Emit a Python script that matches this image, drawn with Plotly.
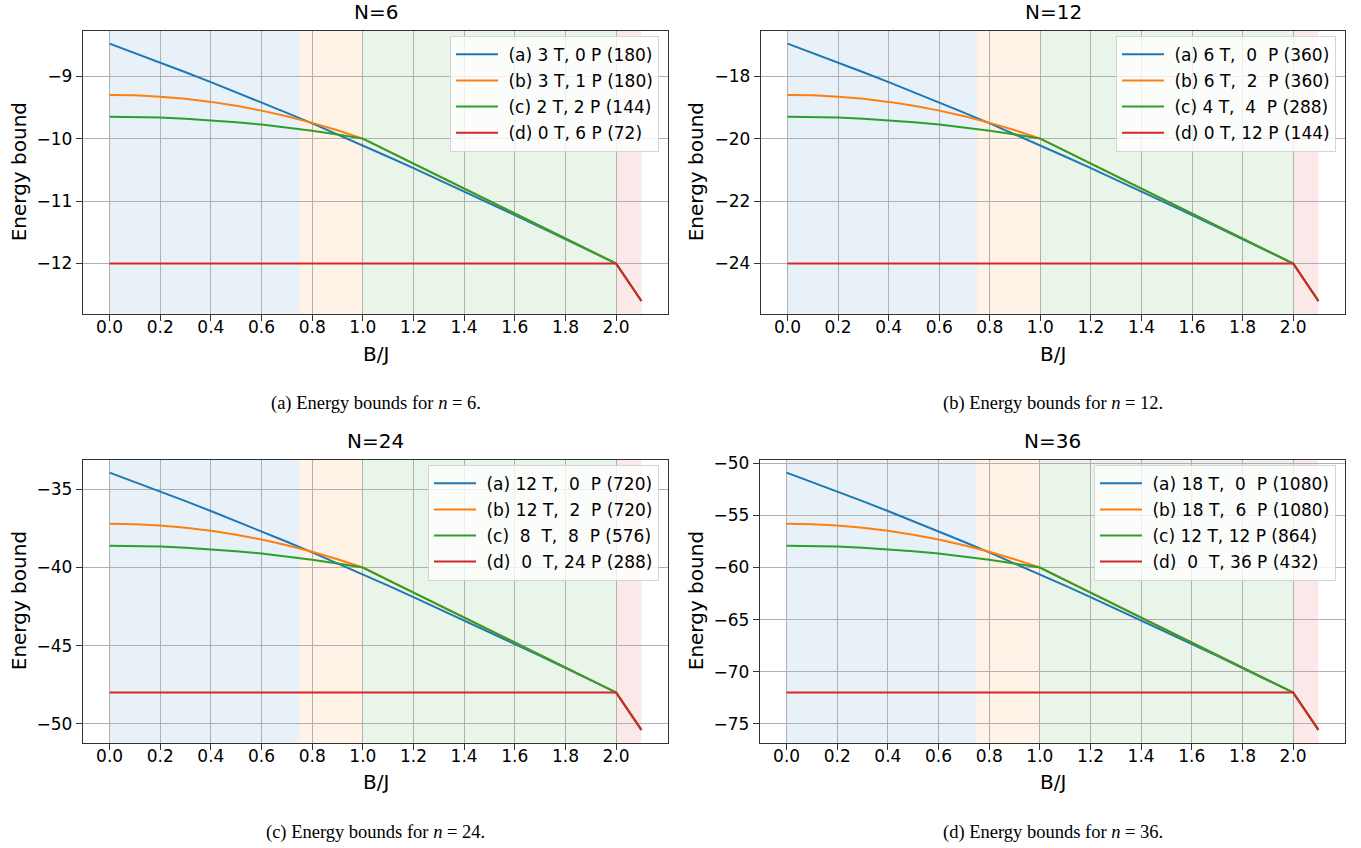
import plotly.graph_objects as go

# ---------------- data ----------------
B = [0.0, 0.1, 0.2, 0.3, 0.4, 0.5, 0.6, 0.7, 0.8, 0.9, 1.0,
     1.1, 1.2, 1.3, 1.4, 1.5, 1.6, 1.7, 1.8, 1.9, 2.0, 2.1]

# N = 6
n6_a = [-8.480, -8.630, -8.782, -8.937, -9.095, -9.256, -9.420, -9.587, -9.757, -9.931, -10.110,
        -10.291, -10.474, -10.659, -10.846, -11.035, -11.225, -11.416, -11.609, -11.804, -12.0, -12.6]
n6_b = [-9.300, -9.307, -9.328, -9.363, -9.412, -9.475, -9.552, -9.643, -9.748, -9.867, -10.0,
        -10.2, -10.4, -10.6, -10.8, -11.0, -11.2, -11.4, -11.6, -11.8, -12.0, -12.6]
n6_c = [-9.650, -9.654, -9.664, -9.682, -9.706, -9.738, -9.776, -9.822, -9.874, -9.934, -10.0,
        -10.2, -10.4, -10.6, -10.8, -11.0, -11.2, -11.4, -11.6, -11.8, -12.0, -12.6]
n6_d = [-12.0, -12.0, -12.0, -12.0, -12.0, -12.0, -12.0, -12.0, -12.0, -12.0, -12.0,
        -12.0, -12.0, -12.0, -12.0, -12.0, -12.0, -12.0, -12.0, -12.0, -12.0, -12.6]

# N = 12
n12_a = [-16.960, -17.260, -17.564, -17.874, -18.190, -18.512, -18.840, -19.174, -19.514, -19.862, -20.220,
         -20.582, -20.948, -21.318, -21.692, -22.070, -22.450, -22.832, -23.218, -23.608, -24.0, -25.2]
n12_b = [-18.600, -18.614, -18.656, -18.726, -18.824, -18.950, -19.104, -19.286, -19.496, -19.734, -20.0,
         -20.4, -20.8, -21.2, -21.6, -22.0, -22.4, -22.8, -23.2, -23.6, -24.0, -25.2]
n12_c = [-19.300, -19.308, -19.328, -19.364, -19.412, -19.476, -19.552, -19.644, -19.748, -19.868, -20.0,
         -20.4, -20.8, -21.2, -21.6, -22.0, -22.4, -22.8, -23.2, -23.6, -24.0, -25.2]
n12_d = [-24.0, -24.0, -24.0, -24.0, -24.0, -24.0, -24.0, -24.0, -24.0, -24.0, -24.0,
         -24.0, -24.0, -24.0, -24.0, -24.0, -24.0, -24.0, -24.0, -24.0, -24.0, -25.2]

# N = 24
n24_a = [-33.920, -34.520, -35.128, -35.748, -36.380, -37.024, -37.680, -38.348, -39.028, -39.724, -40.440,
         -41.164, -41.896, -42.636, -43.384, -44.140, -44.900, -45.664, -46.436, -47.216, -48.0, -50.4]
n24_b = [-37.200, -37.228, -37.312, -37.452, -37.648, -37.900, -38.208, -38.572, -38.992, -39.468, -40.0,
         -40.8, -41.6, -42.4, -43.2, -44.0, -44.8, -45.6, -46.4, -47.2, -48.0, -50.4]
n24_c = [-38.600, -38.616, -38.656, -38.728, -38.824, -38.952, -39.104, -39.288, -39.496, -39.736, -40.0,
         -40.8, -41.6, -42.4, -43.2, -44.0, -44.8, -45.6, -46.4, -47.2, -48.0, -50.4]
n24_d = [-48.0, -48.0, -48.0, -48.0, -48.0, -48.0, -48.0, -48.0, -48.0, -48.0, -48.0,
         -48.0, -48.0, -48.0, -48.0, -48.0, -48.0, -48.0, -48.0, -48.0, -48.0, -50.4]

# N = 36
n36_a = [-50.880, -51.780, -52.692, -53.622, -54.570, -55.536, -56.520, -57.522, -58.542, -59.586, -60.660,
         -61.746, -62.844, -63.954, -65.076, -66.210, -67.350, -68.496, -69.654, -70.824, -72.0, -75.6]
n36_b = [-55.800, -55.842, -55.968, -56.178, -56.472, -56.850, -57.312, -57.858, -58.488, -59.202, -60.0,
         -61.2, -62.4, -63.6, -64.8, -66.0, -67.2, -68.4, -69.6, -70.8, -72.0, -75.6]
n36_c = [-57.900, -57.924, -57.984, -58.092, -58.236, -58.428, -58.656, -58.932, -59.244, -59.604, -60.0,
         -61.2, -62.4, -63.6, -64.8, -66.0, -67.2, -68.4, -69.6, -70.8, -72.0, -75.6]
n36_d = [-72.0, -72.0, -72.0, -72.0, -72.0, -72.0, -72.0, -72.0, -72.0, -72.0, -72.0,
         -72.0, -72.0, -72.0, -72.0, -72.0, -72.0, -72.0, -72.0, -72.0, -72.0, -75.6]

titles = ["N=6", "N=12", "N=24", "N=36"]
labels_n6 = ["(a) 3 T, 0 P (180)", "(b) 3 T, 1 P (180)", "(c) 2 T, 2 P (144)", "(d) 0 T, 6 P (72)"]
labels_n12 = ["(a) 6 T,  0  P (360)", "(b) 6 T,  2  P (360)", "(c) 4 T,  4  P (288)", "(d) 0 T, 12 P (144)"]
labels_n24 = ["(a) 12 T,  0  P (720)", "(b) 12 T,  2  P (720)", "(c)  8  T,  8  P (576)", "(d)  0  T, 24 P (288)"]
labels_n36 = ["(a) 18 T,  0  P (1080)", "(b) 18 T,  6  P (1080)", "(c) 12 T, 12 P (864)", "(d)  0  T, 36 P (432)"]
captions = ["(a) Energy bounds for <i>n</i> = 6.", "(b) Energy bounds for <i>n</i> = 12.",
            "(c) Energy bounds for <i>n</i> = 24.", "(d) Energy bounds for <i>n</i> = 36."]
y_dticks = [1, 2, 5, 5]
x_tickvals = [0.0, 0.2, 0.4, 0.6, 0.8, 1.0, 1.2, 1.4, 1.6, 1.8, 2.0]

band_edges = [0.0, 0.75, 1.0, 2.0, 2.1]
band_colors = ["rgba(31,119,180,0.10)", "rgba(255,127,14,0.10)",
               "rgba(44,160,44,0.10)", "rgba(214,39,40,0.10)"]
line_colors = ["#1f77b4", "#ff7f0e", "#2ca02c", "#d62728"]

panels = [
    (titles[0], [n6_a, n6_b, n6_c, n6_d], labels_n6),
    (titles[1], [n12_a, n12_b, n12_c, n12_d], labels_n12),
    (titles[2], [n24_a, n24_b, n24_c, n24_d], labels_n24),
    (titles[3], [n36_a, n36_b, n36_c, n36_d], labels_n36),
]

# ---------------- layout geometry (pixels) ----------------
W, H = 1361, 848
px_x = [(83, 668), (761, 1345), (83, 668), (760, 1345)]
px_y = [(25, 310), (25, 310), (457, 742), (457, 742)]
ylabel_x = [19, 696, 19, 696]


def fx(p):
    return p / W


def fy(p):
    return 1 - p / H


def nb(s):
    return "\u00a0" + s.replace("  ", " \u00a0")


FONT = "DejaVu Sans"
fig = go.Figure()
layout = dict(
    width=W, height=H, margin=dict(l=0, r=0, t=0, b=0),
    paper_bgcolor="white", plot_bgcolor="white",
    font=dict(family=FONT, size=17, color="black"),
    showlegend=True,
)
annotations = []
shapes = []

for i, (title, series, labels) in enumerate(panels):
    k = "" if i == 0 else str(i + 1)
    xa, ya = "x" + k, "y" + k
    leg = "legend" + k
    for j in range(4):
        fig.add_trace(go.Scatter(
            x=B, y=series[j], mode="lines", name=nb(labels[j]),
            line=dict(color=line_colors[j], width=2),
            xaxis=xa, yaxis=ya, legend=leg, legendgroup=f"g{i}{j}",
        ))
    allv = [v for s in series for v in s]
    lo, hi = min(allv), max(allv)
    pad = 0.05 * (hi - lo)
    x0, x1 = px_x[i]
    y0, y1 = px_y[i]
    axcommon = dict(showline=True, mirror=True, linecolor="#333333", linewidth=1.3,
                    showgrid=True, gridcolor="#b0b0b0", gridwidth=1.2,
                    zeroline=False, ticks="outside", ticklen=6, tickwidth=1.3,
                    tickcolor="#333333", tickfont=dict(family=FONT, size=17))
    layout["xaxis" + k] = dict(
        domain=[fx(x0), fx(x1)], anchor=ya, range=[-0.105, 2.205],
        tickvals=x_tickvals, tickformat=".1f", ticklabelstandoff=-8, **axcommon)
    layout["yaxis" + k] = dict(
        domain=[fy(y1), fy(y0)], anchor=xa, range=[lo - pad, hi + pad],
        dtick=y_dticks[i], tick0=0, **axcommon)
    layout[leg] = dict(
        x=fx(x1 - 9), y=fy(y0 + 5), xanchor="right", yanchor="top",
        bgcolor="rgba(255,255,255,0.8)", bordercolor="#d5d5d5", borderwidth=1,
        font=dict(family=FONT, size=17), tracegroupgap=1, itemwidth=42,
    )
    for b in range(4):
        shapes.append(dict(type="rect", xref=xa, yref=ya + " domain",
                           x0=band_edges[b], x1=band_edges[b + 1], y0=0, y1=1,
                           fillcolor=band_colors[b], line=dict(width=0), layer="below"))
    cx = fx((x0 + x1) / 2)
    annotations.append(dict(text=title, xref="paper", yref="paper", x=cx, y=fy(y0),
                            xanchor="center", yanchor="bottom", yshift=5, showarrow=False,
                            font=dict(family=FONT, size=20)))
    annotations.append(dict(text="B/J", xref="paper", yref="paper", x=cx, y=fy(y1 + 40),
                            xanchor="center", yanchor="middle", showarrow=False,
                            font=dict(family=FONT, size=20)))
    annotations.append(dict(text="Energy bound", xref="paper", yref="paper",
                            x=fx(ylabel_x[i]), y=fy((y0 + y1) / 2), textangle=-90,
                            xanchor="center", yanchor="middle", showarrow=False,
                            font=dict(family=FONT, size=20)))
    annotations.append(dict(text=captions[i], xref="paper", yref="paper", x=cx,
                            y=fy(y1 + 90), xanchor="center", yanchor="middle",
                            showarrow=False,
                            font=dict(family="Liberation Serif", size=18.5)))

layout["annotations"] = annotations
layout["shapes"] = shapes
fig.update_layout(**layout)
fig.write_html("out.html", config={"displayModeBar": False},
               post_script="document.body.style.margin='0px';document.body.style.overflow='hidden';")
